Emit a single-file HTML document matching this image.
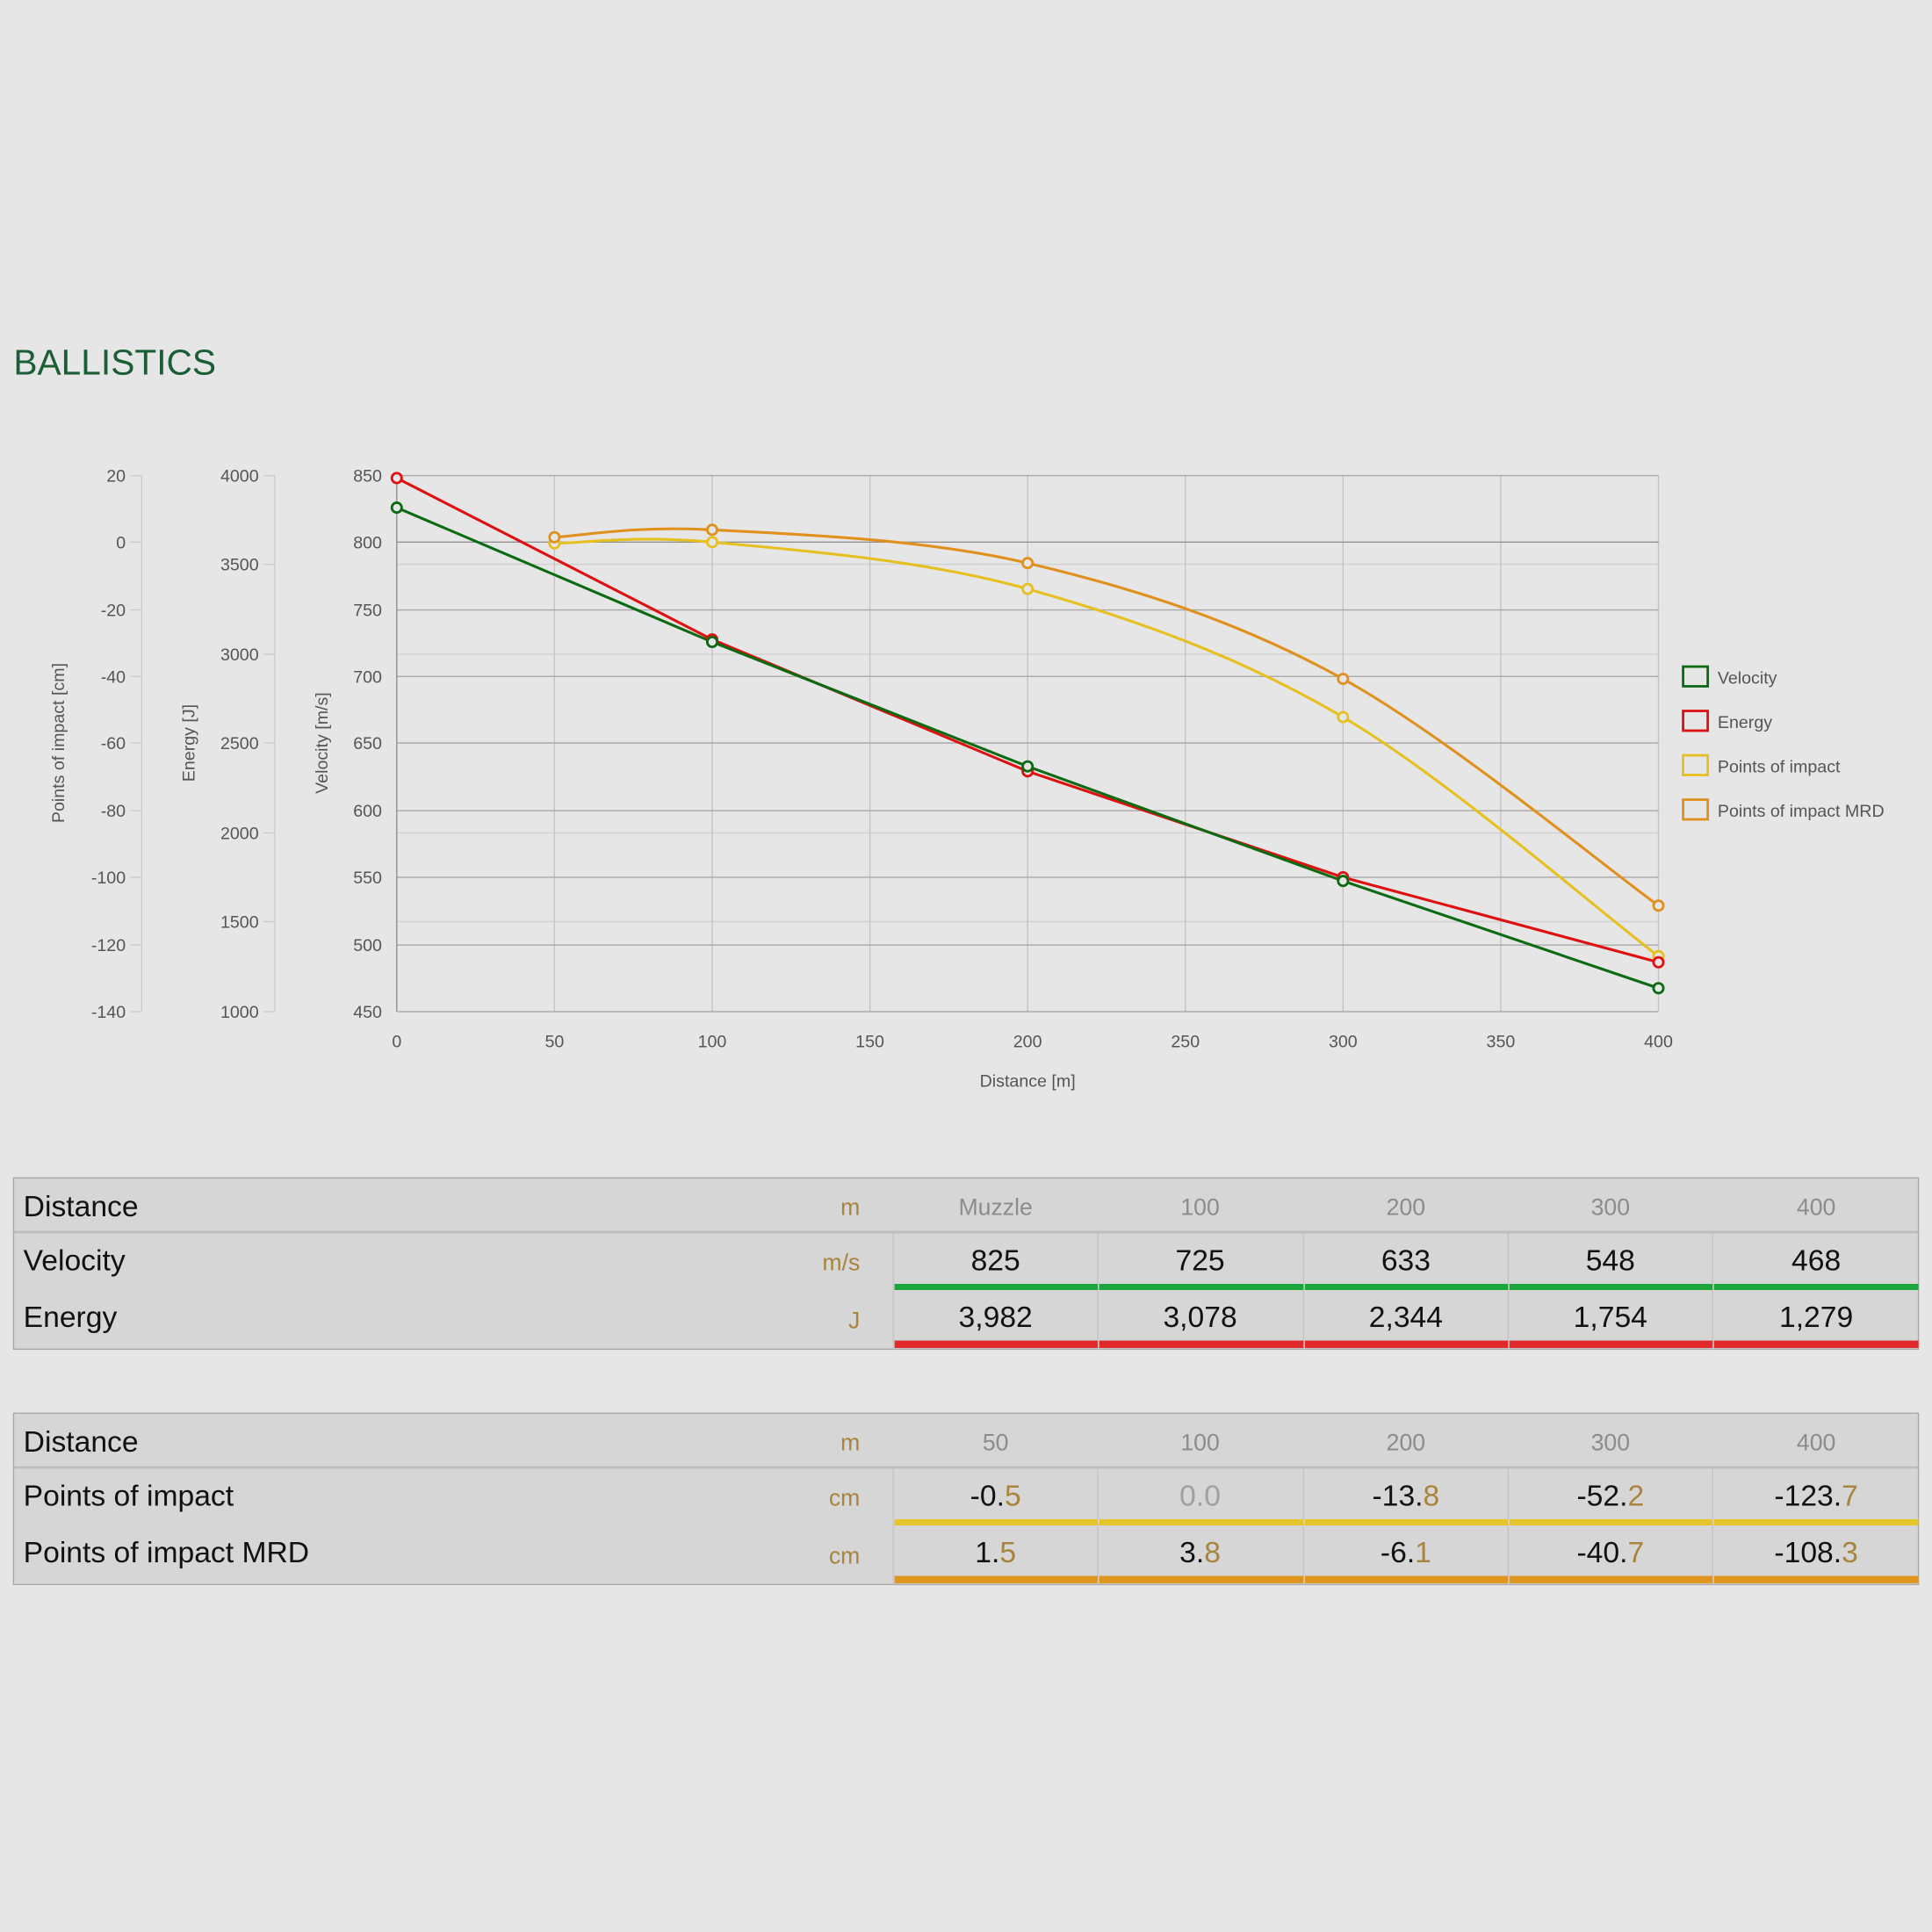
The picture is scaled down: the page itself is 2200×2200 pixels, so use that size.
<!DOCTYPE html>
<html><head><meta charset="utf-8"><style>html,body{margin:0;padding:0;background:#e6e6e6;}svg{display:block}</style></head>
<body>
<svg width="2200" height="2200" viewBox="0 0 1568 1568" xmlns="http://www.w3.org/2000/svg" font-family="Liberation Sans, sans-serif">
<rect width="1568" height="1568" fill="#e6e6e6"/>
<text x="11" y="304" font-size="29" fill="#1b5e36">BALLISTICS</text>
<g stroke="#d0d0d0" stroke-width="1">
<line x1="322" y1="458" x2="1346" y2="458"/><line x1="322" y1="531" x2="1346" y2="531"/><line x1="322" y1="603" x2="1346" y2="603"/><line x1="322" y1="676" x2="1346" y2="676"/><line x1="322" y1="748" x2="1346" y2="748"/>
</g>
<g stroke="#c4c4c4" stroke-width="1">
<line x1="450" y1="386" x2="450" y2="821"/><line x1="578" y1="386" x2="578" y2="821"/><line x1="706" y1="386" x2="706" y2="821"/><line x1="834" y1="386" x2="834" y2="821"/><line x1="962" y1="386" x2="962" y2="821"/><line x1="1090" y1="386" x2="1090" y2="821"/><line x1="1218" y1="386" x2="1218" y2="821"/><line x1="1346" y1="386" x2="1346" y2="821"/>
</g>
<g stroke="#a8a8a8" stroke-width="1">
<line x1="322" y1="386" x2="1346" y2="386"/><line x1="322" y1="495" x2="1346" y2="495"/><line x1="322" y1="549" x2="1346" y2="549"/><line x1="322" y1="603" x2="1346" y2="603"/><line x1="322" y1="658" x2="1346" y2="658"/><line x1="322" y1="712" x2="1346" y2="712"/><line x1="322" y1="767" x2="1346" y2="767"/><line x1="322" y1="821" x2="1346" y2="821"/>
</g>
<line x1="322" y1="440" x2="1346" y2="440" stroke="#909090"/>
<line x1="322" y1="386" x2="322" y2="821" stroke="#909090"/>
<line x1="115" y1="386" x2="115" y2="821" stroke="#ccc"/>
<line x1="223" y1="386" x2="223" y2="821" stroke="#ccc"/>
<g font-size="14" fill="#555" text-anchor="end">
<text x="102" y="391">20</text><text x="102" y="445">0</text><text x="102" y="500">-20</text><text x="102" y="554">-40</text><text x="102" y="608">-60</text><text x="102" y="663">-80</text><text x="102" y="717">-100</text><text x="102" y="772">-120</text><text x="102" y="826">-140</text>
<text x="210" y="391">4000</text><text x="210" y="463">3500</text><text x="210" y="536">3000</text><text x="210" y="608">2500</text><text x="210" y="681">2000</text><text x="210" y="753">1500</text><text x="210" y="826">1000</text>
<text x="310" y="391">850</text><text x="310" y="445">800</text><text x="310" y="500">750</text><text x="310" y="554">700</text><text x="310" y="608">650</text><text x="310" y="663">600</text><text x="310" y="717">550</text><text x="310" y="772">500</text><text x="310" y="826">450</text>
</g>
<g stroke="#ccc"><line x1="106" y1="386" x2="115" y2="386"/><line x1="106" y1="440" x2="115" y2="440"/><line x1="106" y1="495" x2="115" y2="495"/><line x1="106" y1="549" x2="115" y2="549"/><line x1="106" y1="603" x2="115" y2="603"/><line x1="106" y1="658" x2="115" y2="658"/><line x1="106" y1="712" x2="115" y2="712"/><line x1="106" y1="767" x2="115" y2="767"/><line x1="106" y1="821" x2="115" y2="821"/>
<line x1="214" y1="386" x2="223" y2="386"/><line x1="214" y1="458" x2="223" y2="458"/><line x1="214" y1="531" x2="223" y2="531"/><line x1="214" y1="603" x2="223" y2="603"/><line x1="214" y1="676" x2="223" y2="676"/><line x1="214" y1="748" x2="223" y2="748"/><line x1="214" y1="821" x2="223" y2="821"/></g>
<g font-size="14" fill="#555">
<text transform="translate(52,603) rotate(-90)" text-anchor="middle">Points of impact [cm]</text>
<text transform="translate(158,603) rotate(-90)" text-anchor="middle">Energy [J]</text>
<text transform="translate(266,603) rotate(-90)" text-anchor="middle">Velocity [m/s]</text>
</g>
<g font-size="14" fill="#555" text-anchor="middle">
<text x="322" y="850">0</text><text x="450" y="850">50</text><text x="578" y="850">100</text><text x="706" y="850">150</text><text x="834" y="850">200</text><text x="962" y="850">250</text><text x="1090" y="850">300</text><text x="1218" y="850">350</text><text x="1346" y="850">400</text>
<text x="834" y="882">Distance [m]</text>
</g>
<g fill="none" stroke-width="2.2">
<path d="M450,441 C471,441 514,434 578,440 C642,446 749,454 834,478 C919,502 1005,532 1090,582 C1175,632 1303,744 1346,776" stroke="#e6c020"/>
<path d="M450,436 C471,435 514,426.5 578,430 C642,433.5 749,437 834,457 C919,477 1005,504 1090,551 C1175,598 1303,704 1346,735" stroke="#e0901c"/>
<polyline points="322,388 578,519 834,626 1090,712 1346,781" stroke="#dd1111"/>
<polyline points="322,412 578,521 834,622 1090,715 1346,802" stroke="#0c6a12"/>
</g>
<g fill="#e6e6e6" stroke-width="2">
<g stroke="#e6c020"><circle cx="450" cy="441" r="4"/><circle cx="578" cy="440" r="4"/><circle cx="834" cy="478" r="4"/><circle cx="1090" cy="582" r="4"/><circle cx="1346" cy="776" r="4"/></g>
<g stroke="#e0901c"><circle cx="450" cy="436" r="4"/><circle cx="578" cy="430" r="4"/><circle cx="834" cy="457" r="4"/><circle cx="1090" cy="551" r="4"/><circle cx="1346" cy="735" r="4"/></g>
<g stroke="#dd1111"><circle cx="322" cy="388" r="4"/><circle cx="578" cy="519" r="4"/><circle cx="834" cy="626" r="4"/><circle cx="1090" cy="712" r="4"/><circle cx="1346" cy="781" r="4"/></g>
<g stroke="#0c6a12"><circle cx="322" cy="412" r="4"/><circle cx="578" cy="521" r="4"/><circle cx="834" cy="622" r="4"/><circle cx="1090" cy="715" r="4"/><circle cx="1346" cy="802" r="4"/></g>
</g>
<g fill="none" stroke-width="2">
<rect x="1366" y="541" width="20" height="16" stroke="#0c6a12"/>
<rect x="1366" y="577" width="20" height="16" stroke="#dd1111"/>
<rect x="1366" y="613" width="20" height="16" stroke="#e6c020"/>
<rect x="1366" y="649" width="20" height="16" stroke="#e0901c"/>
</g>
<g font-size="14" fill="#555">
<text x="1394" y="555">Velocity</text><text x="1394" y="591">Energy</text><text x="1394" y="627">Points of impact</text><text x="1394" y="663">Points of impact MRD</text>
</g>

<rect x="11" y="956" width="1546" height="139" fill="#d6d6d6" stroke="#a8a8a8"/>
<line x1="11" y1="1000" x2="1557" y2="1000" stroke="#bdbdbd" stroke-width="2"/>
<g stroke="#c4c4c4"><line x1="725" y1="1000" x2="725" y2="1095"/><line x1="891" y1="1000" x2="891" y2="1095"/><line x1="1058" y1="1000" x2="1058" y2="1095"/><line x1="1224" y1="1000" x2="1224" y2="1095"/><line x1="1390" y1="1000" x2="1390" y2="1095"/></g>
<rect x="726" y="1042" width="831" height="5" fill="#1aa63a"/>
<rect x="726" y="1088" width="831" height="6" fill="#e0292a"/>
<g fill="#d6d6d6"><rect x="891" y="1042" width="1" height="5"/><rect x="1058" y="1042" width="1" height="5"/><rect x="1224" y="1042" width="1" height="5"/><rect x="1390" y="1042" width="1" height="5"/><rect x="891" y="1088" width="1" height="6"/><rect x="1058" y="1088" width="1" height="6"/><rect x="1224" y="1088" width="1" height="6"/><rect x="1390" y="1088" width="1" height="6"/></g>
<g font-size="24" fill="#111"><text x="19" y="987">Distance</text><text x="19" y="1031">Velocity</text><text x="19" y="1077">Energy</text></g>
<g font-size="19" fill="#a8843c" text-anchor="end"><text x="698" y="986">m</text><text x="698" y="1031">m/s</text><text x="698" y="1078">J</text></g>
<g font-size="19" fill="#8c8c8c" text-anchor="middle"><text x="808" y="986">Muzzle</text><text x="974" y="986">100</text><text x="1141" y="986">200</text><text x="1307" y="986">300</text><text x="1474" y="986">400</text></g>
<g font-size="24" fill="#111" text-anchor="middle"><text x="808" y="1031">825</text><text x="974" y="1031">725</text><text x="1141" y="1031">633</text><text x="1307" y="1031">548</text><text x="1474" y="1031">468</text>
<text x="808" y="1077">3,982</text><text x="974" y="1077">3,078</text><text x="1141" y="1077">2,344</text><text x="1307" y="1077">1,754</text><text x="1474" y="1077">1,279</text></g>

<rect x="11" y="1147" width="1546" height="139" fill="#d6d6d6" stroke="#a8a8a8"/>
<line x1="11" y1="1191" x2="1557" y2="1191" stroke="#bdbdbd" stroke-width="2"/>
<g stroke="#c4c4c4"><line x1="725" y1="1191" x2="725" y2="1286"/><line x1="891" y1="1191" x2="891" y2="1286"/><line x1="1058" y1="1191" x2="1058" y2="1286"/><line x1="1224" y1="1191" x2="1224" y2="1286"/><line x1="1390" y1="1191" x2="1390" y2="1286"/></g>
<rect x="726" y="1233" width="831" height="5" fill="#e6c52a"/>
<rect x="726" y="1279" width="831" height="6" fill="#e0961e"/>
<g fill="#d6d6d6"><rect x="891" y="1233" width="1" height="5"/><rect x="1058" y="1233" width="1" height="5"/><rect x="1224" y="1233" width="1" height="5"/><rect x="1390" y="1233" width="1" height="5"/><rect x="891" y="1279" width="1" height="6"/><rect x="1058" y="1279" width="1" height="6"/><rect x="1224" y="1279" width="1" height="6"/><rect x="1390" y="1279" width="1" height="6"/></g>
<g font-size="24" fill="#111"><text x="19" y="1178">Distance</text><text x="19" y="1222">Points of impact</text><text x="19" y="1268">Points of impact MRD</text></g>
<g font-size="19" fill="#a8843c" text-anchor="end"><text x="698" y="1177">m</text><text x="698" y="1222">cm</text><text x="698" y="1269">cm</text></g>
<g font-size="19" fill="#8c8c8c" text-anchor="middle"><text x="808" y="1177">50</text><text x="974" y="1177">100</text><text x="1141" y="1177">200</text><text x="1307" y="1177">300</text><text x="1474" y="1177">400</text></g>
<g font-size="24" fill="#111" text-anchor="middle">
<text x="808" y="1222">-0.<tspan fill="#a8843c">5</tspan></text>
<text x="974" y="1222" fill="#a0a0a0">0.0</text>
<text x="1141" y="1222">-13.<tspan fill="#a8843c">8</tspan></text>
<text x="1307" y="1222">-52.<tspan fill="#a8843c">2</tspan></text>
<text x="1474" y="1222">-123.<tspan fill="#a8843c">7</tspan></text>
<text x="808" y="1268">1.<tspan fill="#a8843c">5</tspan></text>
<text x="974" y="1268">3.<tspan fill="#a8843c">8</tspan></text>
<text x="1141" y="1268">-6.<tspan fill="#a8843c">1</tspan></text>
<text x="1307" y="1268">-40.<tspan fill="#a8843c">7</tspan></text>
<text x="1474" y="1268">-108.<tspan fill="#a8843c">3</tspan></text>
</g>
</svg>
</body></html>
